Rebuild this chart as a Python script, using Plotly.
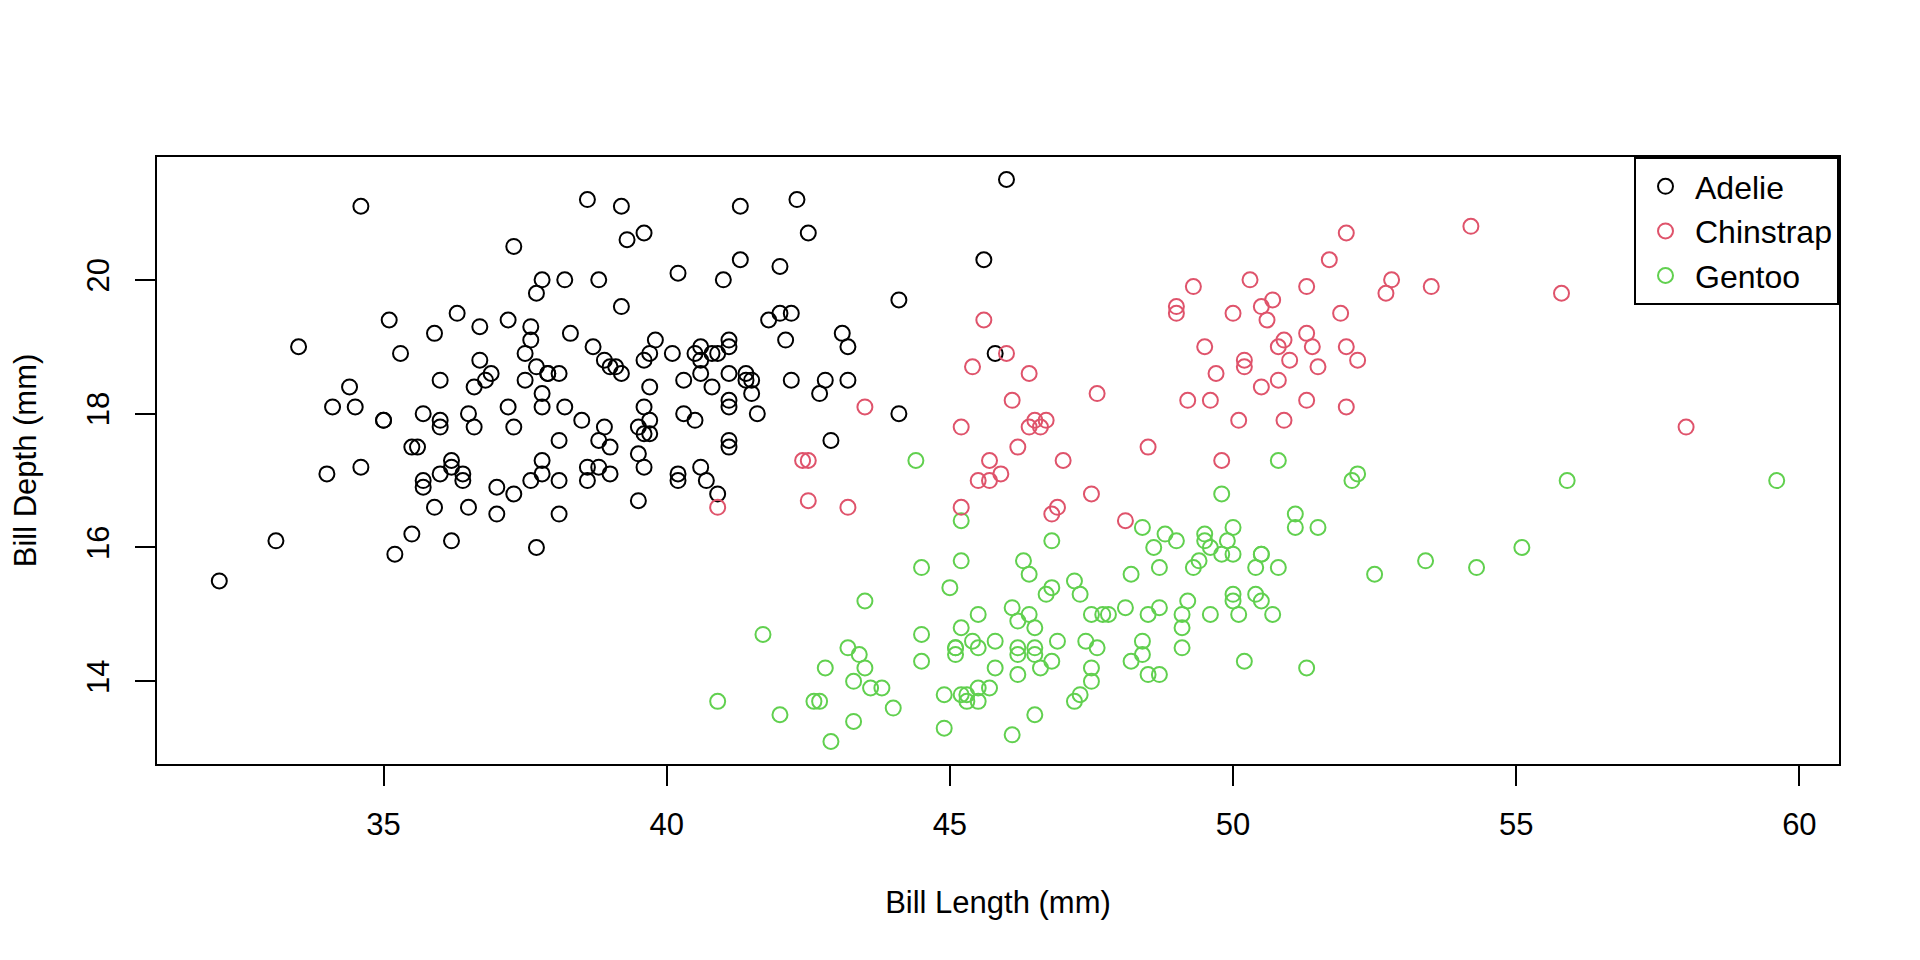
import plotly.graph_objects as go

# penguins: bill length / bill depth (mm), by species, in data order
adelie_len = [39.1, 39.5, 40.3, 36.7, 39.3, 38.9, 39.2, 34.1, 42, 37.8, 37.8, 41.1, 38.6, 34.6, 36.6, 38.7,
              42.5, 34.4, 46, 37.8, 37.7, 35.9, 38.2, 38.8, 35.3, 40.6, 40.5, 37.9, 40.5, 39.5, 37.2, 39.5,
              40.9, 36.4, 39.2, 38.8, 42.2, 37.6, 39.8, 36.5, 40.8, 36, 44.1, 37, 39.6, 41.1, 37.5, 36,
              42.3, 39.6, 40.1, 35, 42, 34.5, 41.4, 39, 40.6, 36.5, 37.6, 35.7, 41.3, 37.6, 41.1, 36.4,
              41.6, 35.5, 41.1, 35.9, 41.8, 33.5, 39.7, 39.6, 45.8, 35.5, 42.8, 40.9, 37.2, 36.2, 42.1, 34.6,
              42.9, 36.7, 35.1, 37.3, 41.3, 36.3, 36.9, 38.3, 38.9, 35.7, 41.1, 34, 39.6, 36.2, 40.8, 38.1,
              40.3, 33.1, 43.2, 35, 41, 37.7, 37.8, 37.9, 39.7, 38.6, 38.2, 38.1, 43.2, 38.1, 45.6, 39.7,
              42.2, 39.6, 42.7, 38.6, 37.3, 35.7, 41.1, 36.2, 37.7, 40.2, 41.4, 35.2, 40.6, 38.8, 41.5, 39,
              44.1, 38.5, 43.1, 36.8, 37.5, 38.1, 41.1, 35.6, 40.2, 37, 39.7, 40.2, 40.6, 32.1, 40.7, 37.3,
              39, 39.2, 36.6, 36, 37.8, 36, 41.5]
adelie_dep = [18.7, 17.4, 18, 19.3, 20.6, 17.8, 19.6, 18.1, 20.2, 17.1, 17.3, 17.6, 21.2, 21.1, 17.8, 19,
              20.7, 18.4, 21.5, 18.3, 18.7, 19.2, 18.1, 17.2, 18.9, 18.6, 17.9, 18.6, 18.9, 16.7, 18.1, 17.8,
              18.9, 17, 21.1, 20, 18.5, 19.3, 19.1, 18, 18.4, 18.5, 19.7, 16.9, 18.8, 19, 18.9, 17.9,
              21.2, 17.7, 18.9, 17.9, 19.5, 18.1, 18.6, 17.5, 18.8, 16.6, 19.1, 16.9, 21.1, 17, 18.2, 17.1,
              18, 16.2, 19.1, 16.6, 19.4, 19, 18.4, 17.2, 18.9, 17.5, 18.5, 16.8, 19.4, 16.1, 19.1, 17.2,
              17.6, 18.8, 19.4, 17.8, 20.3, 19.5, 18.6, 19.2, 18.8, 18, 18.1, 17.1, 18.1, 17.3, 18.9, 18.6,
              18.5, 16.1, 18.5, 17.9, 20, 16, 20, 18.6, 18.9, 17.2, 20, 17, 19, 16.5, 20.3, 17.7,
              19.5, 20.7, 18.3, 17, 20.5, 17, 18.6, 17.2, 19.8, 17, 18.5, 15.9, 19, 17.6, 18.3, 17.1,
              18, 17.9, 19.2, 18.5, 18.5, 17.6, 17.5, 17.5, 20.1, 16.5, 17.9, 17.1, 17.2, 15.5, 17, 16.8,
              18.7, 18.6, 18.4, 17.8, 18.1, 17.1, 18.5]

gentoo_len = [46.1, 50, 48.7, 50, 47.6, 46.5, 45.4, 46.7, 43.3, 46.8, 40.9, 49, 45.5, 48.4, 45.8, 49.3,
              42, 49.2, 46.2, 48.7, 50.2, 45.1, 46.5, 46.3, 42.9, 46.1, 44.5, 47.8, 48.2, 50, 47.3, 42.8,
              45.1, 59.6, 49.1, 48.4, 42.6, 44.4, 44, 48.7, 42.7, 49.6, 45.3, 49.6, 50.5, 43.6, 45.5, 50.5,
              44.9, 45.2, 46.6, 48.5, 45.1, 50.1, 46.5, 45, 43.8, 45.5, 43.2, 50.4, 45.3, 46.2, 45.7, 54.3,
              45.8, 49.8, 46.2, 49.5, 43.5, 50.7, 47.7, 46.4, 48.2, 46.5, 46.4, 48.6, 47.5, 51.1, 45.2, 45.2,
              49.1, 52.5, 47.4, 50, 44.9, 50.8, 43.4, 51.3, 47.5, 52.1, 47.5, 52.2, 45.5, 49.5, 44.5, 50.8,
              49.4, 46.9, 48.4, 51.1, 48.5, 55.9, 47.2, 49.1, 47.3, 46.8, 41.7, 53.4, 43.3, 48.1, 50.5, 49.8,
              43.5, 51.5, 46.2, 55.1, 44.5, 48.8, 47.2, 46.8, 50.4, 45.2, 49.9]
gentoo_dep = [13.2, 16.3, 14.1, 15.2, 14.5, 13.5, 14.6, 15.3, 13.4, 15.4, 13.7, 16.1, 13.7, 14.6, 14.6, 15.7,
              13.5, 15.2, 14.5, 15.1, 14.3, 14.5, 14.5, 15.8, 13.1, 15.1, 14.3, 15, 14.3, 15.3, 15.3, 14.2,
              14.5, 17, 14.8, 16.3, 13.7, 17.3, 13.6, 15.7, 13.7, 16, 13.7, 15, 15.9, 13.9, 13.9, 15.9,
              13.3, 15.8, 14.2, 14.1, 14.4, 15, 14.4, 15.4, 13.9, 15, 14.5, 15.3, 13.8, 14.9, 13.9, 15.7,
              14.2, 16.8, 14.4, 16.2, 14.2, 15, 15, 15.6, 15.6, 14.8, 15, 16, 14.2, 16.3, 13.8, 16.4,
              14.5, 15.6, 14.6, 15.9, 13.8, 17.3, 14.4, 14.2, 14, 17, 15, 17.1, 14.5, 16.1, 14.7, 15.7,
              15.8, 14.6, 14.4, 16.5, 15, 17, 15.5, 15, 13.8, 16.1, 14.7, 15.8, 14, 15.1, 15.2, 15.9,
              15.2, 16.3, 14.1, 16, 15.7, 16.2, 13.7, 14.3, 15.7, 14.8, 16.1]

chinstrap_len = [46.5, 50, 51.3, 45.4, 52.7, 45.2, 46.1, 51.3, 46, 51.3, 46.6, 51.7, 47, 52, 45.9, 50.5,
                 50.3, 58, 46.4, 49.2, 42.4, 48.5, 43.2, 50.6, 46.7, 52, 50.5, 49.5, 46.4, 52.8, 40.9, 54.2,
                 42.5, 51, 49.7, 47.5, 47.6, 52, 46.9, 53.5, 49, 46.2, 50.9, 45.5, 50.9, 50.8, 50.1, 49,
                 51.5, 49.8, 48.1, 51.4, 45.7, 50.7, 42.5, 52.2, 45.2, 49.3, 50.2, 45.6, 51.9, 46.8, 45.7, 55.8,
                 43.5, 49.6, 50.8, 50.2]
chinstrap_dep = [17.9, 19.5, 19.2, 18.7, 19.8, 17.8, 18.2, 18.2, 18.9, 19.9, 17.8, 20.3, 17.3, 18.1, 17.1, 19.6,
                 20, 17.8, 18.6, 18.2, 17.3, 17.5, 16.6, 19.4, 17.9, 19, 18.4, 19, 17.8, 20, 16.6, 20.8,
                 16.7, 18.8, 18.6, 16.8, 18.3, 20.7, 16.6, 19.9, 19.5, 17.5, 19.1, 17, 17.9, 18.5, 17.9, 19.6,
                 18.7, 17.3, 16.4, 19, 17.3, 19.7, 17.3, 18.8, 16.6, 19.9, 18.8, 19.4, 19.5, 16.5, 17, 19.8,
                 18.1, 18.2, 19, 18.7]

x_ticks = [35, 40, 45, 50, 55, 60]
y_ticks = [14, 16, 18, 20]

FONT = "Liberation Sans, Arial, sans-serif"

# same drawing order as the data (Adelie, Gentoo, Chinstrap); legend order by rank
series = [
    ("Adelie", adelie_len, adelie_dep, "#000000", 1),
    ("Gentoo", gentoo_len, gentoo_dep, "#61D04F", 3),
    ("Chinstrap", chinstrap_len, chinstrap_dep, "#DF536B", 2),
]

fig = go.Figure()
for name, xs, ys, col, rank in series:
    fig.add_trace(go.Scatter(
        x=xs, y=ys, mode="markers", name=name, legendrank=rank,
        marker=dict(symbol="circle-open", size=15, color=col, line=dict(width=2, color=col)),
    ))

axis_common = dict(
    showgrid=False, zeroline=False, automargin=False,
    showline=True, linecolor="black", linewidth=2, mirror=True,
    ticks="outside", ticklen=20, tickwidth=1.5, tickcolor="black",
    tickfont=dict(family=FONT, size=31, color="black"),
)

# page body has an 8px default margin, so margins are 8px less than the target box
fig.update_layout(
    template="none",
    width=1920, height=960,
    margin=dict(l=149, r=89, t=149, b=204),
    paper_bgcolor="white", plot_bgcolor="white",
    font=dict(family=FONT, size=31, color="black"),
    xaxis=dict(range=[31.0, 60.7], tickvals=x_ticks, ticklabelstandoff=12,
               title=dict(text="Bill Length (mm)", standoff=50,
                          font=dict(family=FONT, size=31, color="black")),
               **axis_common),
    yaxis=dict(range=[12.764, 21.836], tickvals=y_ticks, tickangle=-90, ticklabelstandoff=14,
               title=dict(text="Bill Depth (mm)", standoff=36,
                          font=dict(family=FONT, size=31, color="black")),
               **axis_common),
    legend=dict(x=1, y=1, xanchor="right", yanchor="top",
                bordercolor="black", borderwidth=2, bgcolor="white",
                font=dict(family=FONT, size=32, color="black"),
                itemwidth=49, itemsizing="trace"),
    showlegend=True,
)

fig.write_html("out.html")
